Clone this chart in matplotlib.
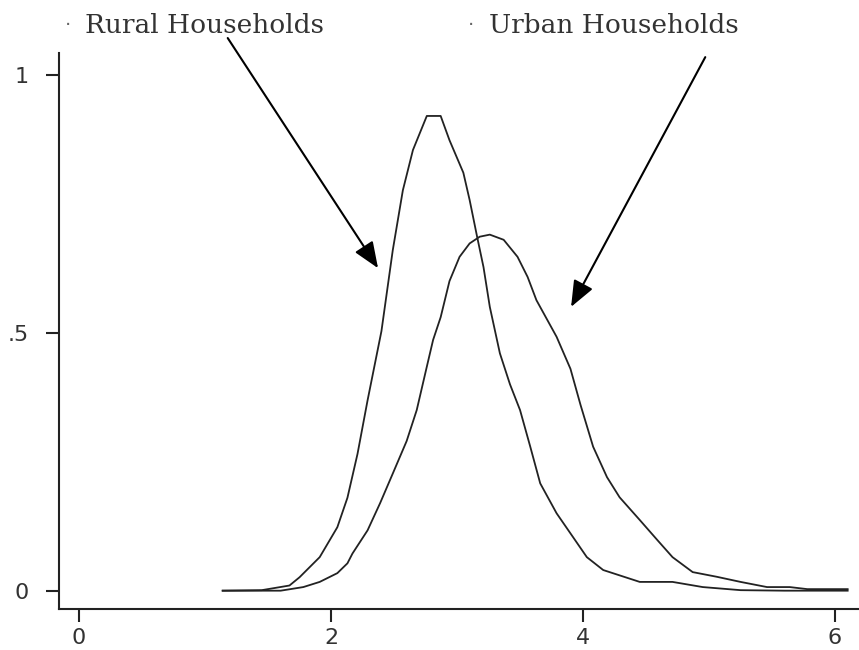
import matplotlib
matplotlib.use('Agg')
import matplotlib.pyplot as plt

# Kernel density of log household size, rural vs urban

rural_x = [1.14, 1.45, 1.67, 1.75, 1.91, 2.05, 2.13, 2.21, 2.29, 2.40, 2.49,
           2.57, 2.65, 2.76, 2.87, 2.94, 3.05, 3.10, 3.16, 3.21, 3.26, 3.34,
           3.42, 3.50, 3.58, 3.66, 3.79, 3.92, 4.03, 4.16, 4.45, 4.71, 4.95,
           5.25, 5.6, 6.1]
rural_y = [0.0, 0.001, 0.010, 0.026, 0.065, 0.123, 0.180, 0.265, 0.369, 0.503,
           0.660, 0.776, 0.854, 0.920, 0.920, 0.873, 0.810, 0.757, 0.685, 0.627,
           0.550, 0.460, 0.400, 0.350, 0.280, 0.208, 0.150, 0.104, 0.065, 0.040,
           0.017, 0.017, 0.007, 0.001, 0.0, 0.0]

urban_x = [1.14, 1.60, 1.78, 1.91, 2.05, 2.13, 2.17, 2.29, 2.39, 2.49, 2.60,
           2.68, 2.76, 2.81, 2.87, 2.94, 3.02, 3.10, 3.18, 3.26, 3.37, 3.48,
           3.56, 3.63, 3.79, 3.90, 3.98, 4.08, 4.19, 4.29, 4.45, 4.59, 4.71,
           4.87, 5.06, 5.25, 5.46, 5.64, 5.78, 6.1]
urban_y = [0.0, 0.0, 0.007, 0.017, 0.034, 0.053, 0.072, 0.117, 0.170, 0.227,
           0.290, 0.350, 0.434, 0.486, 0.530, 0.600, 0.647, 0.673, 0.686, 0.690,
           0.680, 0.647, 0.608, 0.563, 0.492, 0.430, 0.360, 0.279, 0.220, 0.181,
           0.137, 0.098, 0.065, 0.036, 0.027, 0.017, 0.007, 0.007, 0.003, 0.003]

x_ticks = [0, 2, 4, 6]
y_ticks = [0, 0.5, 1]
y_tick_labels = ['0', '.5', '1']

labels = ['Rural Households', 'Urban Households']
label_pos = [(0.05, 1.096), (3.25, 1.096)]
arrow_start = [(1.18, 1.071), (4.97, 1.034)]
arrow_tip = [(2.373, 0.625), (3.905, 0.55)]

fig = plt.figure(figsize=(8.59, 6.5), dpi=100)
ax = fig.add_axes([59 / 859, 1 - 609 / 650, 800 / 859, 556 / 650])

ax.plot(rural_x, rural_y, color='#222222', lw=1.3)
ax.plot(urban_x, urban_y, color='#222222', lw=1.3)

ax.set_xlim(-0.159, 6.19)
ax.set_ylim(-0.0355, 1.042)
ax.set_xticks(x_ticks)
ax.set_xticklabels([str(t) for t in x_ticks])
ax.set_yticks(y_ticks)
ax.set_yticklabels(y_tick_labels)

for side in ['top', 'right']:
    ax.spines[side].set_visible(False)
for side in ['left', 'bottom']:
    ax.spines[side].set_linewidth(1.5)
    ax.spines[side].set_color('#222222')

ax.tick_params(axis='both', length=9.5, width=1.5, color='#222222',
               labelsize=16, labelcolor='#333333')
ax.tick_params(axis='x', pad=4)
ax.tick_params(axis='y', pad=12)

for lab, pos, start, tip in zip(labels, label_pos, arrow_start, arrow_tip):
    ax.text(pos[0], pos[1], lab, family='DejaVu Serif', fontsize=19,
            color='#333333', va='center', ha='left', clip_on=False)
    ax.text(pos[0] - 0.14, pos[1], '\u00b7', fontsize=14, color='#666666',
            va='center', ha='center', clip_on=False)
    ax.annotate('', xy=tip, xytext=start, annotation_clip=False,
                arrowprops=dict(arrowstyle='-|>,head_length=1.6,head_width=0.65',
                                mutation_scale=10, color='black', lw=1.5,
                                shrinkA=0, shrinkB=0))

fig.savefig('out.png', dpi=100)
plt.close(fig)
